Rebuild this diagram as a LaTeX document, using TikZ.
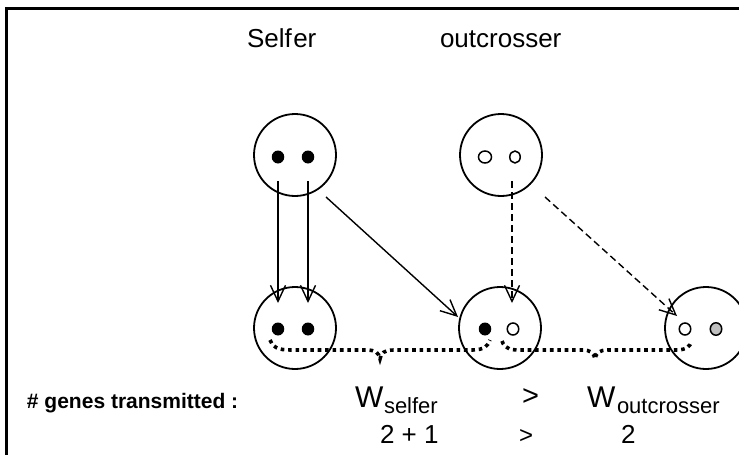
\documentclass[tikz,border=0pt]{standalone}
\usepackage{fontspec}
\setmainfont{Liberation Sans}
\usetikzlibrary{arrows.meta,shapes.geometric}
\tikzset{
  parent/.style={circle,draw,line width=1.8pt,minimum size=82pt,inner sep=0pt},
  fdot/.style={ellipse,fill=black,minimum width=12.5pt,minimum height=13pt,inner sep=0pt},
  odot/.style={ellipse,draw,line width=1.5pt,fill=white,minimum width=11.5pt,minimum height=12pt,inner sep=0pt},
  gdot/.style={ellipse,draw,line width=1.5pt,fill=black!25,minimum width=11.5pt,minimum height=12.5pt,inner sep=0pt},
  gene/.style={line width=1.4pt,-{Straight Barb[length=16pt,width=15pt,line width=1.4pt]}},
  dgene/.style={gene,dash pattern=on 7pt off 4pt},
  dotbrace/.style={line width=3.6pt,dash pattern=on 3.6pt off 3.8pt},
  frame/.style={line width=3pt},
  lbl/.style={anchor=base west,inner sep=0pt,outer sep=0pt}
}
\begin{document}
\begin{tikzpicture}[x=1pt,y=-1pt]
\useasboundingbox (0,0) rectangle (739,455);
% frame
\coordinate (f1) at (6,470);
\coordinate (f2) at (6,8);
\coordinate (f3) at (745,8);
\draw[frame] (f1) -- (f2) -- (f3);
% titles
\node[lbl,font=\fontsize{26}{30}\selectfont] (tself) at (247,47) {Self\kern1.5pt er};
\node[lbl,font=\fontsize{26}{30}\selectfont] (tout) at (440,47) {outcrosser};
% parent circles
\node[parent] (tl) at (295,155) {};
\node[parent] (tr) at (501,155) {};
\node[parent] (bl) at (295,328) {};
\node[parent] (bm) at (500,328) {};
\node[parent] (br) at (706,328) {};
% dots
\node[fdot] (tl1) at (278,157) {};
\node[fdot] (tl2) at (308,157) {};
\node[odot,minimum width=13pt] (tr1) at (485,157) {};
\node[odot,minimum width=10.5pt] (tr2) at (515,157) {};
\node[fdot] (bl1) at (278,329) {};
\node[fdot] (bl2) at (308,329) {};
\node[fdot] (bm1) at (485,329) {};
\node[odot] (bm2) at (513,329) {};
\node[odot] (br1) at (685,329) {};
\node[gdot] (br2) at (716,329) {};
% arrow end points
\coordinate (s1) at (278,181);
\coordinate (e1) at (278,303);
\coordinate (s2) at (308,181);
\coordinate (e2) at (308,303);
\coordinate (s3) at (326,197);
\coordinate (e3) at (458,317);
\coordinate (s4) at (512,181);
\coordinate (e4) at (512,303);
\coordinate (s5) at (545,197);
\coordinate (e5) at (677,316);
\draw[gene] (s1) -- (e1);
\draw[gene] (s2) -- (e2);
\draw[gene] (s3) -- (e3);
\draw[dgene] (s4) -- (e4);
\draw[dgene] (s5) -- (e5);
% dotted braces
\coordinate (b1a) at (270,340);
\coordinate (b1m) at (380,359);
\coordinate (b1b) at (490,340);
\coordinate (b2a) at (502,341);
\coordinate (b2m) at (595,359);
\coordinate (b2b) at (692,341);
\draw[dotbrace] (b1a) .. controls (274,350) and (282,350) .. (295,350) -- (366,350)
  .. controls (376,350) and (379,353) .. (b1m)
  .. controls (381,353) and (384,350) .. (394,350) -- (472,350)
  .. controls (484,350) and (488,346) .. (b1b);
\draw[dotbrace] (b2a) .. controls (505,350) and (512,350) .. (522,350) -- (582,350)
  .. controls (591,350) and (594,353) .. (b2m)
  .. controls (596,353) and (599,350) .. (608,350) -- (676,350)
  .. controls (687,350) and (690,346) .. (b2b);
% bottom text
\node[lbl,font=\fontsize{21}{25}\selectfont\bfseries] (tg) at (27,408) {\# genes transmitted :};
\node[lbl,font=\fontsize{30}{32}\selectfont] (w1) at (355,407) {W};
\node[lbl,font=\fontsize{22}{25}\selectfont] (w1s) at (384,413) {selfer};
\node[lbl,font=\fontsize{29}{30}\selectfont] (gt1) at (522,405) {>};
\node[lbl,font=\fontsize{30}{32}\selectfont] (w2) at (587,407) {W};
\node[lbl,font=\fontsize{22}{25}\selectfont] (w2s) at (617,413) {outcrosser};
\node[lbl,font=\fontsize{26}{30}\selectfont] (n1) at (380,443) {2 + 1};
\node[lbl,font=\fontsize{24}{30}\selectfont] (gt2) at (519,443) {>};
\node[lbl,font=\fontsize{26}{30}\selectfont] (n2) at (621,443) {2};
\end{tikzpicture}
\end{document}
